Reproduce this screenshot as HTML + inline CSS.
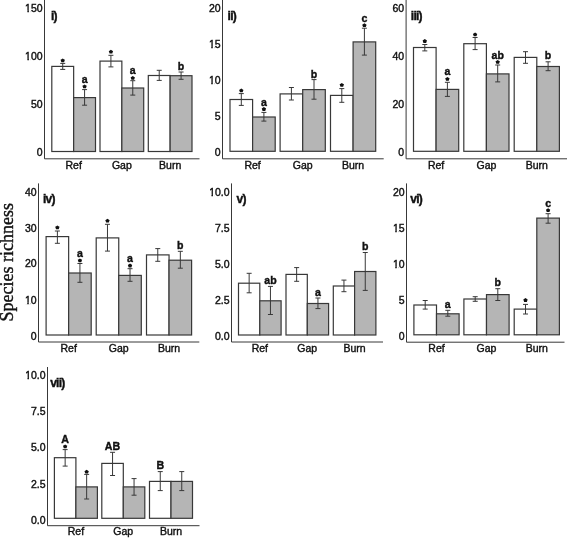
<!DOCTYPE html>
<html><head><meta charset="utf-8"><style>
html,body{margin:0;padding:0;background:#fff;}
svg{display:block;will-change:transform;}
.t{font-family:"Liberation Sans",sans-serif;font-size:10.5px;fill:#111;stroke:#111;stroke-width:0.4px;}
.lt{font-family:"Liberation Sans",sans-serif;font-size:12px;font-weight:bold;fill:#111;stroke:#111;stroke-width:0.4px;}
.pl{font-family:"Liberation Sans",sans-serif;font-size:12px;font-weight:bold;letter-spacing:-0.75px;fill:#111;stroke:#111;stroke-width:0.4px;}
.lc{font-size:11.5px;}
.uc{font-size:11.6px;}
.yl{font-family:"Liberation Serif",serif;font-size:18px;fill:#111;stroke:#111;stroke-width:0.4px;}
</style></head><body>
<svg width="568" height="538" viewBox="0 0 568 538">
<rect width="568" height="538" fill="#fff"/>
<defs><clipPath id="c0"><path clip-rule="evenodd" d="M22.08 -0.15 H45.60 V15.85 H22.08 Z M24.88 10.57 H27.37 V13.05 H24.88 Z M28.95 10.57 H30.86 V13.05 H28.95 Z"/></clipPath><clipPath id="c1"><path clip-rule="evenodd" d="M22.08 48.05 H45.60 V64.05 H22.08 Z M24.88 58.77 H27.37 V61.25 H24.88 Z M28.95 58.77 H30.86 V61.25 H28.95 Z"/></clipPath><clipPath id="c2"><path clip-rule="evenodd" d="M205.92 36.15 H223.60 V52.15 H205.92 Z M208.72 46.87 H211.21 V49.35 H208.72 Z M212.79 46.87 H214.70 V49.35 H212.79 Z"/></clipPath><clipPath id="c3"><path clip-rule="evenodd" d="M205.92 72.25 H223.60 V88.25 H205.92 Z M208.72 82.97 H211.21 V85.45 H208.72 Z M212.79 82.97 H214.70 V85.45 H212.79 Z"/></clipPath><clipPath id="c4"><path clip-rule="evenodd" d="M21.92 291.65 H39.60 V307.65 H21.92 Z M24.72 302.37 H27.21 V304.85 H24.72 Z M28.79 302.37 H30.70 V304.85 H28.79 Z"/></clipPath><clipPath id="c5"><path clip-rule="evenodd" d="M206.16 184.05 H232.60 V200.05 H206.16 Z M208.96 194.77 H211.45 V197.25 H208.96 Z M213.03 194.77 H214.94 V197.25 H213.03 Z"/></clipPath><clipPath id="c6"><path clip-rule="evenodd" d="M389.92 220.05 H407.60 V236.05 H389.92 Z M392.72 230.77 H395.21 V233.25 H392.72 Z M396.79 230.77 H398.70 V233.25 H396.79 Z"/></clipPath><clipPath id="c7"><path clip-rule="evenodd" d="M389.92 255.75 H407.60 V271.75 H389.92 Z M392.72 266.47 H395.21 V268.95 H392.72 Z M396.79 266.47 H398.70 V268.95 H396.79 Z"/></clipPath><clipPath id="c8"><path clip-rule="evenodd" d="M22.16 367.15 H48.60 V383.15 H22.16 Z M24.96 377.87 H27.45 V380.35 H24.96 Z M29.03 377.87 H30.94 V380.35 H29.03 Z"/></clipPath></defs>
<path d="M44.50 0.00 V158.80 H199.50" fill="none" stroke="#383838" stroke-width="1"/>
<text class="t" x="42.60" y="11.85" text-anchor="end" clip-path="url(#c0)">150</text>
<text class="t" x="42.60" y="60.05" text-anchor="end" clip-path="url(#c1)">100</text>
<text class="t" x="42.60" y="108.05" text-anchor="end">50</text>
<text class="t" x="42.60" y="155.95" text-anchor="end">0</text>
<text class="pl" x="51.00" y="19.70">i)</text>
<rect x="51.80" y="66.40" width="21.85" height="85.10" fill="#fff" stroke="#383838" stroke-width="1.2"/>
<rect x="73.65" y="97.60" width="21.85" height="53.90" fill="#b5b5b5" stroke="#383838" stroke-width="1.2"/>
<path d="M62.72 63.40 V69.40 M60.22 63.40 H65.22 M60.22 69.40 H65.22" fill="none" stroke="#383838" stroke-width="1"/>
<polygon points="62.72,58.38 63.81,59.13 64.91,59.85 64.47,61.02 64.08,62.21 62.72,62.19 61.37,62.21 60.98,61.02 60.54,59.85 61.64,59.13" fill="#111"/>
<path d="M84.58 89.60 V105.20 M82.08 89.60 H87.08 M82.08 105.20 H87.08" fill="none" stroke="#383838" stroke-width="1"/>
<polygon points="84.58,84.38 85.66,85.13 86.76,85.85 86.32,87.02 85.93,88.21 84.58,88.19 83.22,88.21 82.83,87.02 82.39,85.85 83.49,85.13" fill="#111"/>
<text class="lt lc" transform="translate(84.58 83.30) scale(0.920 1)" text-anchor="middle">a</text>
<text class="t" x="73.65" y="168.70" text-anchor="middle">Ref</text>
<rect x="100.00" y="61.10" width="21.85" height="90.40" fill="#fff" stroke="#383838" stroke-width="1.2"/>
<rect x="121.85" y="88.00" width="21.85" height="63.50" fill="#b5b5b5" stroke="#383838" stroke-width="1.2"/>
<path d="M110.92 55.30 V66.90 M108.42 55.30 H113.42 M108.42 66.90 H113.42" fill="none" stroke="#383838" stroke-width="1"/>
<polygon points="110.92,49.68 112.01,50.43 113.11,51.15 112.67,52.32 112.28,53.51 110.92,53.49 109.57,53.51 109.18,52.32 108.74,51.15 109.84,50.43" fill="#111"/>
<path d="M132.78 80.70 V95.10 M130.28 80.70 H135.28 M130.28 95.10 H135.28" fill="none" stroke="#383838" stroke-width="1"/>
<polygon points="132.78,75.98 133.86,76.73 134.96,77.45 134.52,78.62 134.13,79.81 132.78,79.79 131.42,79.81 131.03,78.62 130.59,77.45 131.69,76.73" fill="#111"/>
<text class="lt lc" transform="translate(132.78 74.20) scale(0.920 1)" text-anchor="middle">a</text>
<text class="t" x="121.85" y="168.70" text-anchor="middle">Gap</text>
<rect x="148.30" y="75.50" width="21.85" height="76.00" fill="#fff" stroke="#383838" stroke-width="1.2"/>
<rect x="170.15" y="75.70" width="21.85" height="75.80" fill="#b5b5b5" stroke="#383838" stroke-width="1.2"/>
<path d="M159.23 70.30 V80.40 M156.73 70.30 H161.73 M156.73 80.40 H161.73" fill="none" stroke="#383838" stroke-width="1"/>
<path d="M181.08 72.00 V79.30 M178.58 72.00 H183.58 M178.58 79.30 H183.58" fill="none" stroke="#383838" stroke-width="1"/>
<text class="lt lc" transform="translate(181.08 70.00) scale(0.920 1)" text-anchor="middle">b</text>
<text class="t" x="170.15" y="168.70" text-anchor="middle">Burn</text>
<path d="M222.50 0.00 V158.80 H383.70" fill="none" stroke="#383838" stroke-width="1"/>
<text class="t" x="220.60" y="11.95" text-anchor="end">20</text>
<text class="t" x="220.60" y="48.15" text-anchor="end" clip-path="url(#c2)">15</text>
<text class="t" x="220.60" y="84.25" text-anchor="end" clip-path="url(#c3)">10</text>
<text class="t" x="220.60" y="120.35" text-anchor="end">5</text>
<text class="t" x="220.60" y="155.95" text-anchor="end">0</text>
<text class="pl" x="227.60" y="19.70">ii)</text>
<rect x="230.00" y="99.50" width="22.60" height="51.80" fill="#fff" stroke="#383838" stroke-width="1.2"/>
<rect x="252.60" y="117.00" width="22.60" height="34.30" fill="#b5b5b5" stroke="#383838" stroke-width="1.2"/>
<path d="M241.30 93.60 V105.40 M238.80 93.60 H243.80 M238.80 105.40 H243.80" fill="none" stroke="#383838" stroke-width="1"/>
<polygon points="241.30,88.48 242.38,89.23 243.49,89.95 243.05,91.12 242.65,92.31 241.30,92.29 239.95,92.31 239.55,91.12 239.11,89.95 240.22,89.23" fill="#111"/>
<path d="M263.90 112.40 V121.10 M261.40 112.40 H266.40 M261.40 121.10 H266.40" fill="none" stroke="#383838" stroke-width="1"/>
<polygon points="263.90,107.08 264.98,107.83 266.09,108.55 265.65,109.72 265.25,110.91 263.90,110.89 262.55,110.91 262.15,109.72 261.71,108.55 262.82,107.83" fill="#111"/>
<text class="lt lc" transform="translate(263.90 106.20) scale(0.920 1)" text-anchor="middle">a</text>
<text class="t" x="252.60" y="168.70" text-anchor="middle">Ref</text>
<rect x="280.10" y="93.90" width="22.60" height="57.40" fill="#fff" stroke="#383838" stroke-width="1.2"/>
<rect x="302.70" y="89.60" width="22.60" height="61.70" fill="#b5b5b5" stroke="#383838" stroke-width="1.2"/>
<path d="M291.40 87.50 V100.00 M288.90 87.50 H293.90 M288.90 100.00 H293.90" fill="none" stroke="#383838" stroke-width="1"/>
<path d="M314.00 79.60 V99.20 M311.50 79.60 H316.50 M311.50 99.20 H316.50" fill="none" stroke="#383838" stroke-width="1"/>
<text class="lt lc" transform="translate(314.00 77.80) scale(0.920 1)" text-anchor="middle">b</text>
<text class="t" x="302.70" y="168.70" text-anchor="middle">Gap</text>
<rect x="330.50" y="95.40" width="22.60" height="55.90" fill="#fff" stroke="#383838" stroke-width="1.2"/>
<rect x="353.10" y="41.90" width="22.60" height="109.40" fill="#b5b5b5" stroke="#383838" stroke-width="1.2"/>
<path d="M341.80 88.60 V102.30 M339.30 88.60 H344.30 M339.30 102.30 H344.30" fill="none" stroke="#383838" stroke-width="1"/>
<polygon points="341.80,82.88 342.88,83.63 343.99,84.35 343.55,85.52 343.15,86.71 341.80,86.69 340.45,86.71 340.05,85.52 339.61,84.35 340.72,83.63" fill="#111"/>
<path d="M364.40 28.20 V55.10 M361.90 28.20 H366.90 M361.90 55.10 H366.90" fill="none" stroke="#383838" stroke-width="1"/>
<polygon points="364.40,23.28 365.48,24.03 366.59,24.75 366.15,25.92 365.75,27.11 364.40,27.09 363.05,27.11 362.65,25.92 362.21,24.75 363.32,24.03" fill="#111"/>
<text class="lt lc" transform="translate(364.40 22.10) scale(0.920 1)" text-anchor="middle">c</text>
<text class="t" x="353.10" y="168.70" text-anchor="middle">Burn</text>
<path d="M406.10 0.00 V158.80 H567.00" fill="none" stroke="#383838" stroke-width="1"/>
<text class="t" x="404.20" y="11.95" text-anchor="end">60</text>
<text class="t" x="404.20" y="59.85" text-anchor="end">40</text>
<text class="t" x="404.20" y="107.75" text-anchor="end">20</text>
<text class="t" x="404.20" y="155.65" text-anchor="end">0</text>
<text class="pl" x="410.80" y="19.70">iii)</text>
<rect x="413.50" y="47.50" width="22.60" height="103.80" fill="#fff" stroke="#383838" stroke-width="1.2"/>
<rect x="436.10" y="89.40" width="22.60" height="61.90" fill="#b5b5b5" stroke="#383838" stroke-width="1.2"/>
<path d="M424.80 44.50 V50.90 M422.30 44.50 H427.30 M422.30 50.90 H427.30" fill="none" stroke="#383838" stroke-width="1"/>
<polygon points="424.80,39.08 425.88,39.83 426.99,40.55 426.55,41.72 426.15,42.91 424.80,42.89 423.45,42.91 423.05,41.72 422.61,40.55 423.72,39.83" fill="#111"/>
<path d="M447.40 82.30 V96.40 M444.90 82.30 H449.90 M444.90 96.40 H449.90" fill="none" stroke="#383838" stroke-width="1"/>
<polygon points="447.40,76.88 448.48,77.63 449.59,78.35 449.15,79.52 448.75,80.71 447.40,80.69 446.05,80.71 445.65,79.52 445.21,78.35 446.32,77.63" fill="#111"/>
<text class="lt lc" transform="translate(447.40 75.30) scale(0.920 1)" text-anchor="middle">a</text>
<text class="t" x="436.10" y="168.70" text-anchor="middle">Ref</text>
<rect x="463.80" y="43.70" width="22.60" height="107.60" fill="#fff" stroke="#383838" stroke-width="1.2"/>
<rect x="486.40" y="73.90" width="22.60" height="77.40" fill="#b5b5b5" stroke="#383838" stroke-width="1.2"/>
<path d="M475.10 37.50 V49.60 M472.60 37.50 H477.60 M472.60 49.60 H477.60" fill="none" stroke="#383838" stroke-width="1"/>
<polygon points="475.10,32.48 476.18,33.23 477.29,33.95 476.85,35.12 476.45,36.31 475.10,36.29 473.75,36.31 473.35,35.12 472.91,33.95 474.02,33.23" fill="#111"/>
<path d="M497.70 65.00 V81.90 M495.20 65.00 H500.20 M495.20 81.90 H500.20" fill="none" stroke="#383838" stroke-width="1"/>
<polygon points="497.70,59.88 498.78,60.63 499.89,61.35 499.45,62.52 499.05,63.71 497.70,63.69 496.35,63.71 495.95,62.52 495.51,61.35 496.62,60.63" fill="#111"/>
<text class="lt lc" transform="translate(497.70 58.80) scale(0.920 1)" text-anchor="middle">ab</text>
<text class="t" x="486.40" y="168.70" text-anchor="middle">Gap</text>
<rect x="514.20" y="57.40" width="22.60" height="93.90" fill="#fff" stroke="#383838" stroke-width="1.2"/>
<rect x="536.80" y="66.50" width="22.60" height="84.80" fill="#b5b5b5" stroke="#383838" stroke-width="1.2"/>
<path d="M525.50 51.70 V63.30 M523.00 51.70 H528.00 M523.00 63.30 H528.00" fill="none" stroke="#383838" stroke-width="1"/>
<path d="M548.10 61.80 V70.70 M545.60 61.80 H550.60 M545.60 70.70 H550.60" fill="none" stroke="#383838" stroke-width="1"/>
<text class="lt lc" transform="translate(548.10 59.10) scale(0.920 1)" text-anchor="middle">b</text>
<text class="t" x="536.80" y="168.70" text-anchor="middle">Burn</text>
<path d="M38.50 183.40 V342.00 H199.30" fill="none" stroke="#383838" stroke-width="1"/>
<text class="t" x="36.60" y="196.05" text-anchor="end">40</text>
<text class="t" x="36.60" y="232.05" text-anchor="end">30</text>
<text class="t" x="36.60" y="267.35" text-anchor="end">20</text>
<text class="t" x="36.60" y="303.65" text-anchor="end" clip-path="url(#c4)">10</text>
<text class="t" x="36.60" y="339.75" text-anchor="end">0</text>
<text class="pl" x="43.00" y="203.20">iv)</text>
<rect x="46.10" y="236.60" width="22.55" height="98.40" fill="#fff" stroke="#383838" stroke-width="1.2"/>
<rect x="68.65" y="273.00" width="22.55" height="62.00" fill="#b5b5b5" stroke="#383838" stroke-width="1.2"/>
<path d="M57.38 231.00 V243.30 M54.88 231.00 H59.88 M54.88 243.30 H59.88" fill="none" stroke="#383838" stroke-width="1"/>
<polygon points="57.38,225.38 58.46,226.13 59.56,226.85 59.12,228.02 58.73,229.21 57.38,229.19 56.02,229.21 55.63,228.02 55.19,226.85 56.29,226.13" fill="#111"/>
<path d="M79.93 263.50 V282.30 M77.43 263.50 H82.43 M77.43 282.30 H82.43" fill="none" stroke="#383838" stroke-width="1"/>
<polygon points="79.93,258.38 81.01,259.13 82.11,259.85 81.67,261.02 81.28,262.21 79.93,262.19 78.57,262.21 78.18,261.02 77.74,259.85 78.84,259.13" fill="#111"/>
<text class="lt lc" transform="translate(79.93 257.30) scale(0.920 1)" text-anchor="middle">a</text>
<text class="t" x="68.65" y="352.40" text-anchor="middle">Ref</text>
<rect x="96.20" y="237.90" width="22.55" height="97.10" fill="#fff" stroke="#383838" stroke-width="1.2"/>
<rect x="118.75" y="275.40" width="22.55" height="59.60" fill="#b5b5b5" stroke="#383838" stroke-width="1.2"/>
<path d="M107.48 224.30 V251.10 M104.98 224.30 H109.98 M104.98 251.10 H109.98" fill="none" stroke="#383838" stroke-width="1"/>
<polygon points="107.48,218.68 108.56,219.43 109.66,220.15 109.22,221.32 108.83,222.51 107.48,222.49 106.12,222.51 105.73,221.32 105.29,220.15 106.39,219.43" fill="#111"/>
<path d="M130.03 268.70 V281.30 M127.53 268.70 H132.53 M127.53 281.30 H132.53" fill="none" stroke="#383838" stroke-width="1"/>
<polygon points="130.03,263.58 131.11,264.33 132.21,265.05 131.77,266.22 131.38,267.41 130.03,267.39 128.67,267.41 128.28,266.22 127.84,265.05 128.94,264.33" fill="#111"/>
<text class="lt lc" transform="translate(130.03 262.30) scale(0.920 1)" text-anchor="middle">a</text>
<text class="t" x="118.75" y="352.40" text-anchor="middle">Gap</text>
<rect x="146.50" y="254.90" width="22.55" height="80.10" fill="#fff" stroke="#383838" stroke-width="1.2"/>
<rect x="169.05" y="260.20" width="22.55" height="74.80" fill="#b5b5b5" stroke="#383838" stroke-width="1.2"/>
<path d="M157.78 248.60 V261.30 M155.28 248.60 H160.28 M155.28 261.30 H160.28" fill="none" stroke="#383838" stroke-width="1"/>
<path d="M180.33 251.30 V268.20 M177.83 251.30 H182.83 M177.83 268.20 H182.83" fill="none" stroke="#383838" stroke-width="1"/>
<text class="lt lc" transform="translate(180.33 249.20) scale(0.920 1)" text-anchor="middle">b</text>
<text class="t" x="169.05" y="352.40" text-anchor="middle">Burn</text>
<path d="M231.50 183.40 V342.00 H383.00" fill="none" stroke="#383838" stroke-width="1"/>
<text class="t" x="229.60" y="196.05" text-anchor="end" clip-path="url(#c5)">10.0</text>
<text class="t" x="229.60" y="232.05" text-anchor="end">7.5</text>
<text class="t" x="229.60" y="267.95" text-anchor="end">5.0</text>
<text class="t" x="229.60" y="303.85" text-anchor="end">2.5</text>
<text class="t" x="229.60" y="339.85" text-anchor="end">0.0</text>
<text class="pl" x="236.60" y="203.20">v)</text>
<rect x="238.50" y="283.20" width="21.30" height="51.80" fill="#fff" stroke="#383838" stroke-width="1.2"/>
<rect x="259.80" y="300.80" width="21.30" height="34.20" fill="#b5b5b5" stroke="#383838" stroke-width="1.2"/>
<path d="M249.15 273.30 V292.80 M246.65 273.30 H251.65 M246.65 292.80 H251.65" fill="none" stroke="#383838" stroke-width="1"/>
<path d="M270.45 286.40 V314.50 M267.95 286.40 H272.95 M267.95 314.50 H272.95" fill="none" stroke="#383838" stroke-width="1"/>
<text class="lt lc" transform="translate(270.45 284.20) scale(0.920 1)" text-anchor="middle">ab</text>
<text class="t" x="259.80" y="352.40" text-anchor="middle">Ref</text>
<rect x="286.00" y="274.40" width="21.30" height="60.60" fill="#fff" stroke="#383838" stroke-width="1.2"/>
<rect x="307.30" y="303.50" width="21.30" height="31.50" fill="#b5b5b5" stroke="#383838" stroke-width="1.2"/>
<path d="M296.65 267.60 V281.30 M294.15 267.60 H299.15 M294.15 281.30 H299.15" fill="none" stroke="#383838" stroke-width="1"/>
<path d="M317.95 298.00 V308.60 M315.45 298.00 H320.45 M315.45 308.60 H320.45" fill="none" stroke="#383838" stroke-width="1"/>
<text class="lt lc" transform="translate(317.95 295.90) scale(0.920 1)" text-anchor="middle">a</text>
<text class="t" x="307.30" y="352.40" text-anchor="middle">Gap</text>
<rect x="333.30" y="286.00" width="21.30" height="49.00" fill="#fff" stroke="#383838" stroke-width="1.2"/>
<rect x="354.60" y="271.50" width="21.30" height="63.50" fill="#b5b5b5" stroke="#383838" stroke-width="1.2"/>
<path d="M343.95 280.10 V291.70 M341.45 280.10 H346.45 M341.45 291.70 H346.45" fill="none" stroke="#383838" stroke-width="1"/>
<path d="M365.25 252.50 V290.40 M362.75 252.50 H367.75 M362.75 290.40 H367.75" fill="none" stroke="#383838" stroke-width="1"/>
<text class="lt lc" transform="translate(365.25 250.40) scale(0.920 1)" text-anchor="middle">b</text>
<text class="t" x="354.60" y="352.40" text-anchor="middle">Burn</text>
<path d="M406.50 183.40 V342.20 H564.50" fill="none" stroke="#383838" stroke-width="1"/>
<text class="t" x="404.60" y="196.05" text-anchor="end">20</text>
<text class="t" x="404.60" y="232.05" text-anchor="end" clip-path="url(#c6)">15</text>
<text class="t" x="404.60" y="267.75" text-anchor="end" clip-path="url(#c7)">10</text>
<text class="t" x="404.60" y="303.75" text-anchor="end">5</text>
<text class="t" x="404.60" y="339.75" text-anchor="end">0</text>
<text class="pl" x="410.30" y="203.20">vi)</text>
<rect x="413.90" y="305.00" width="22.60" height="29.80" fill="#fff" stroke="#383838" stroke-width="1.2"/>
<rect x="436.50" y="313.80" width="22.60" height="21.00" fill="#b5b5b5" stroke="#383838" stroke-width="1.2"/>
<path d="M425.20 300.50 V309.10 M422.70 300.50 H427.70 M422.70 309.10 H427.70" fill="none" stroke="#383838" stroke-width="1"/>
<path d="M447.80 310.30 V316.20 M445.30 310.30 H450.30 M445.30 316.20 H450.30" fill="none" stroke="#383838" stroke-width="1"/>
<text class="lt lc" transform="translate(447.80 307.70) scale(0.920 1)" text-anchor="middle">a</text>
<text class="t" x="436.50" y="352.40" text-anchor="middle">Ref</text>
<rect x="463.90" y="299.00" width="22.60" height="35.80" fill="#fff" stroke="#383838" stroke-width="1.2"/>
<rect x="486.50" y="294.60" width="22.60" height="40.20" fill="#b5b5b5" stroke="#383838" stroke-width="1.2"/>
<path d="M475.20 296.70 V301.30 M472.70 296.70 H477.70 M472.70 301.30 H477.70" fill="none" stroke="#383838" stroke-width="1"/>
<path d="M497.80 288.70 V300.50 M495.30 288.70 H500.30 M495.30 300.50 H500.30" fill="none" stroke="#383838" stroke-width="1"/>
<text class="lt lc" transform="translate(497.80 286.40) scale(0.920 1)" text-anchor="middle">b</text>
<text class="t" x="486.50" y="352.40" text-anchor="middle">Gap</text>
<rect x="514.20" y="309.10" width="22.60" height="25.70" fill="#fff" stroke="#383838" stroke-width="1.2"/>
<rect x="536.80" y="218.10" width="22.60" height="116.70" fill="#b5b5b5" stroke="#383838" stroke-width="1.2"/>
<path d="M525.50 304.40 V314.00 M523.00 304.40 H528.00 M523.00 314.00 H528.00" fill="none" stroke="#383838" stroke-width="1"/>
<polygon points="525.50,298.08 526.58,298.83 527.69,299.55 527.25,300.72 526.85,301.91 525.50,301.89 524.15,301.91 523.75,300.72 523.31,299.55 524.42,298.83" fill="#111"/>
<path d="M548.10 213.70 V223.20 M545.60 213.70 H550.60 M545.60 223.20 H550.60" fill="none" stroke="#383838" stroke-width="1"/>
<polygon points="548.10,208.18 549.18,208.93 550.29,209.65 549.85,210.82 549.45,212.01 548.10,211.99 546.75,212.01 546.35,210.82 545.91,209.65 547.02,208.93" fill="#111"/>
<text class="lt lc" transform="translate(548.10 207.30) scale(0.920 1)" text-anchor="middle">c</text>
<text class="t" x="536.80" y="352.40" text-anchor="middle">Burn</text>
<path d="M47.50 367.00 V525.70 H199.50" fill="none" stroke="#383838" stroke-width="1"/>
<text class="t" x="45.60" y="379.15" text-anchor="end" clip-path="url(#c8)">10.0</text>
<text class="t" x="45.60" y="415.15" text-anchor="end">7.5</text>
<text class="t" x="45.60" y="451.35" text-anchor="end">5.0</text>
<text class="t" x="45.60" y="487.65" text-anchor="end">2.5</text>
<text class="t" x="45.60" y="523.75" text-anchor="end">0.0</text>
<text class="pl" x="50.20" y="386.50">vii)</text>
<rect x="54.40" y="457.70" width="21.50" height="60.60" fill="#fff" stroke="#383838" stroke-width="1.2"/>
<rect x="75.90" y="486.90" width="21.50" height="31.40" fill="#b5b5b5" stroke="#383838" stroke-width="1.2"/>
<path d="M65.15 449.60 V466.10 M62.65 449.60 H67.65 M62.65 466.10 H67.65" fill="none" stroke="#383838" stroke-width="1"/>
<polygon points="65.15,444.38 66.23,445.13 67.34,445.85 66.90,447.02 66.50,448.21 65.15,448.19 63.80,448.21 63.40,447.02 62.96,445.85 64.07,445.13" fill="#111"/>
<text class="lt uc" transform="translate(65.15 442.90) scale(0.920 1)" text-anchor="middle">A</text>
<path d="M86.65 474.40 V499.00 M84.15 474.40 H89.15 M84.15 499.00 H89.15" fill="none" stroke="#383838" stroke-width="1"/>
<polygon points="86.65,469.68 87.73,470.43 88.84,471.15 88.40,472.32 88.00,473.51 86.65,473.49 85.30,473.51 84.90,472.32 84.46,471.15 85.57,470.43" fill="#111"/>
<text class="t" x="75.90" y="535.20" text-anchor="middle">Ref</text>
<rect x="101.80" y="463.40" width="21.50" height="54.90" fill="#fff" stroke="#383838" stroke-width="1.2"/>
<rect x="123.30" y="486.90" width="21.50" height="31.40" fill="#b5b5b5" stroke="#383838" stroke-width="1.2"/>
<path d="M112.55 452.30 V475.50 M110.05 452.30 H115.05 M110.05 475.50 H115.05" fill="none" stroke="#383838" stroke-width="1"/>
<text class="lt uc" transform="translate(112.55 450.10) scale(0.920 1)" text-anchor="middle">AB</text>
<path d="M134.05 478.60 V495.20 M131.55 478.60 H136.55 M131.55 495.20 H136.55" fill="none" stroke="#383838" stroke-width="1"/>
<text class="t" x="123.30" y="535.20" text-anchor="middle">Gap</text>
<rect x="149.50" y="481.40" width="21.50" height="36.90" fill="#fff" stroke="#383838" stroke-width="1.2"/>
<rect x="171.00" y="481.40" width="21.50" height="36.90" fill="#b5b5b5" stroke="#383838" stroke-width="1.2"/>
<path d="M160.25 471.60 V490.60 M157.75 471.60 H162.75 M157.75 490.60 H162.75" fill="none" stroke="#383838" stroke-width="1"/>
<text class="lt uc" transform="translate(160.25 469.20) scale(0.920 1)" text-anchor="middle">B</text>
<path d="M181.75 471.60 V490.60 M179.25 471.60 H184.25 M179.25 490.60 H184.25" fill="none" stroke="#383838" stroke-width="1"/>
<text class="t" x="171.00" y="535.20" text-anchor="middle">Burn</text>
<text class="yl" transform="translate(13.2 262.3) rotate(-90)" text-anchor="middle">Species richness</text>
</svg>
</body></html>
